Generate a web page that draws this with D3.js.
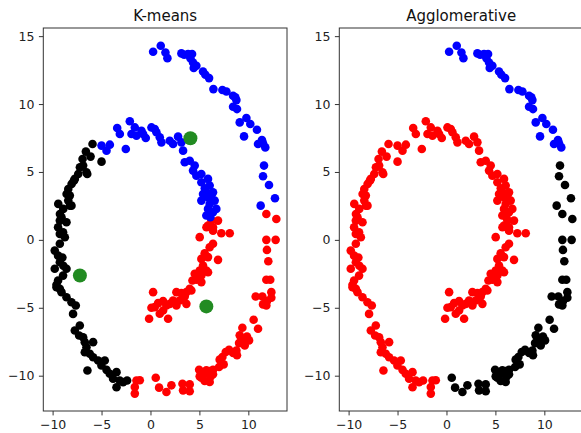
<!DOCTYPE html>
<html>
<head>
<meta charset="utf-8">
<script src="https://cdn.jsdelivr.net/npm/d3@7"></script>
<style>
  body { margin: 0; background: #fff; }
  svg { display: block; font-family: "DejaVu Sans", sans-serif; }
</style>
</head>
<body>
<svg id="chart"></svg>
<script>
// Spiral points, split into pieces by how each method labels them
const innerRed = [
  [6.90, 1.42], [5.88, 1.05], [6.39, 0.93], [5.03, 0.20], [7.24, 0.49], [8.10, 0.49],
  [6.39, -0.29], [6.05, -0.54], [5.54, -0.98], [5.88, -1.27], [5.20, -1.40], [6.90, -1.47],
  [5.37, -1.89], [5.71, -2.25], [5.88, -2.38], [5.03, -2.25], [4.52, -2.50], [5.20, -2.62],
  [4.69, -2.94], [5.20, -3.11], [4.29, -2.99], [4.01, -3.60], [3.67, -3.85], [4.18, -3.73],
  [3.50, -4.17], [3.16, -3.92], [2.65, -3.85], [2.99, -4.46], [2.31, -4.46], [1.97, -4.71],
  [1.29, -4.51], [1.63, -4.83], [0.78, -4.66], [0.44, -4.95], [0.27, -3.85], [0.10, -5.00],
  [1.29, -5.20], [1.80, -5.81], [-0.14, -5.81], [0.95, -5.44], [2.65, -4.83], [3.67, -4.71],
  [6.23, 1.42], [6.39, 0.68], [5.72, 0.93]
];
const innerBlue = [
  [-5.00, 6.94], [-4.49, 6.57], [-4.15, 7.01], [-3.40, 8.24], [-3.13, 7.79], [-2.52, 6.69],
  [-2.11, 8.73], [-1.94, 7.79], [-1.60, 8.28], [-1.43, 7.67], [-0.92, 8.04], [-0.75, 7.79],
  [-0.48, 7.50], [0.10, 8.28], [0.44, 8.16], [0.61, 7.92], [1.12, 7.18], [0.95, 7.55],
  [1.97, 7.30], [2.31, 7.06], [2.82, 7.60], [3.16, 7.18], [3.33, 6.57], [3.50, 5.71],
  [4.01, 5.83], [4.52, 5.47], [4.35, 5.10], [4.69, 4.73], [5.20, 4.85], [5.20, 4.24],
  [5.88, 4.49], [6.05, 4.00], [5.71, 3.50], [5.37, 3.38], [6.39, 3.50], [5.88, 3.14],
  [5.20, 2.89], [6.05, 2.65], [6.56, 2.89], [6.39, 2.03], [5.88, 2.28], [6.73, 2.28],
  [6.12, 1.67], [5.71, 1.79], [5.55, 3.80], [6.20, 3.20]
];
const leftArc = [
  [-5.92, 7.06], [-6.60, 6.50], [-6.12, 6.13], [-5.00, 5.76], [-6.94, 5.96], [-6.46, 4.85],
  [-7.21, 5.34], [-7.38, 4.85], [-7.82, 4.36], [-8.06, 4.12], [-8.40, 3.75], [-8.57, 3.38],
  [-8.40, 2.89], [-9.42, 2.65], [-8.91, 2.28], [-9.25, 1.91], [-8.23, 2.52], [-6.88, 5.47],
  [-6.54, 4.97], [-7.73, 4.49], [-8.24, 3.26], [-8.07, 2.52],
  [-9.09, 1.66], [-9.26, 1.42], [-8.58, 1.30], [-9.44, 0.93], [-8.93, 0.56], [-9.26, 0.44],
  [-8.75, 0.19], [-9.26, -0.29], [-9.78, -0.79], [-9.44, -1.16], [-9.26, -1.65], [-9.78, -2.13],
  [-8.58, -2.13], [-8.93, -2.63], [-9.44, -2.99], [-9.00, -1.30], [-8.90, -1.90], [-9.60, -3.30],
  [-9.60, -3.49], [-9.26, -3.61], [-9.09, -3.85], [-8.58, -4.22], [-8.07, -4.59], [-7.63, -4.83],
  [-7.91, -5.45], [-7.22, -6.31], [-7.73, -6.67], [-7.29, -7.04], [-6.88, -7.17], [-6.71, -7.53],
  [-5.86, -7.53], [-6.54, -7.90], [-6.71, -8.27], [-6.20, -8.39], [-5.86, -8.64], [-5.35, -8.88],
  [-4.67, -8.88], [-5.01, -9.25], [-4.49, -9.57], [-4.16, -9.86], [-3.47, -9.74], [-3.82, -10.23],
  [-3.14, -10.35], [-2.39, -10.35], [-3.47, -10.85], [-6.44, -9.62], [-2.80, -10.48]
];
const bottomRed = [
  [-1.43, -10.35], [-1.09, -10.34], [-1.60, -10.83], [-1.60, -11.32]
];
const outerRight = [
  [0.54, -10.15], [0.88, -10.88], [1.63, -11.20], [2.14, -10.71], [3.27, -10.59], [3.33, -11.08],
  [4.01, -11.15], [4.01, -10.64], [4.97, -9.56], [5.03, -10.05], [5.20, -10.15], [5.44, -9.90],
  [5.54, -10.39], [5.71, -9.61], [6.05, -9.66], [6.05, -10.47], [6.12, -10.10], [6.39, -9.56],
  [6.39, -9.90], [7.01, -9.36], [7.48, -9.17], [7.07, -8.82], [7.35, -8.63], [7.69, -8.26],
  [8.03, -8.09], [8.44, -8.33], [8.84, -8.50], [8.78, -8.14], [9.05, -7.60], [9.63, -7.77],
  [9.12, -7.03], [9.46, -7.28], [9.86, -7.11], [10.07, -7.40], [9.39, -6.47], [10.99, -6.54],
  [10.54, -5.88], [11.50, -4.75], [11.84, -4.83], [11.90, -4.51], [12.35, -4.26], [11.43, -4.17],
  [10.75, -4.17], [12.35, -3.85], [11.84, -2.94], [12.24, -2.94], [12.04, -1.57], [11.90, -0.74],
  [11.84, 0.00], [12.79, 0.00], [11.84, 1.91], [12.86, 1.54]
];
const outerBlueLow = [
  [11.60, 5.47], [11.50, 4.68], [12.11, 4.04], [12.72, 3.06], [11.26, 2.52]
];
const outerBlueTop = [
  [0.27, 13.85], [1.05, 14.29], [1.53, 13.80], [1.73, 13.38], [3.16, 13.73], [3.44, 13.63],
  [3.84, 13.68], [4.25, 13.68], [4.08, 13.38], [4.35, 13.06], [4.69, 12.82], [4.42, 12.65],
  [5.37, 12.40], [5.61, 12.16], [5.99, 11.91], [6.43, 11.10], [7.35, 11.03], [7.76, 10.93],
  [8.44, 10.61], [8.67, 10.49], [8.78, 10.29], [8.44, 9.80], [8.84, 9.63], [9.12, 8.65],
  [9.80, 8.97], [10.20, 8.53], [10.88, 8.11], [9.56, 7.62], [11.39, 7.35], [11.50, 7.11],
  [11.73, 6.81], [10.99, 7.06]
];
// K-means centres
const centroids = [[4.08, 7.48], [-7.21, -2.62], [5.71, -4.90]];

// [points, k-means label, agglomerative label]
const segments = [
  [leftArc, 'black', 'red'],
  [bottomRed, 'red', 'red'],
  [innerRed, 'red', 'red'],
  [innerBlue, 'blue', 'red'],
  [outerRight, 'red', 'black'],
  [outerBlueLow, 'blue', 'black'],
  [outerBlueTop, 'blue', 'blue']
];

const xTicks = [-10, -5, 0, 5, 10];
const yTicks = [-10, -5, 0, 5, 10, 15];
const colors = { blue: '#0000ff', red: '#ff0000', black: '#000000' };

const width = 581, height = 433;
const svg = d3.select('#chart').attr('width', width).attr('height', height);

const plotTop = 28, plotBottom = 411, panelW = 243.7;
const plotH = plotBottom - plotTop;

function drawPanel(left, title, labelIdx, showCentroids) {
  const x = d3.scaleLinear().domain([-10.95, 13.95]).range([0, panelW]);
  const y = d3.scaleLinear().domain([-12.6, 15.6]).range([plotH, 0]);
  const g = svg.append('g').attr('transform', `translate(${left},${plotTop})`);

  // points
  segments.forEach(seg => {
    g.selectAll(null)
      .data(seg[0])
      .enter().append('circle')
      .attr('cx', d => x(d[0]))
      .attr('cy', d => y(d[1]))
      .attr('r', 4.3)
      .attr('fill', colors[seg[labelIdx]]);
  });

  if (showCentroids) {
    g.selectAll(null)
      .data(centroids)
      .enter().append('circle')
      .attr('cx', d => x(d[0]))
      .attr('cy', d => y(d[1]))
      .attr('r', 7)
      .attr('fill', '#228b22');
  }

  // axes
  const xAxis = g.append('g')
    .attr('transform', `translate(0,${plotH})`)
    .call(d3.axisBottom(x).tickValues(xTicks).tickSize(4.4).tickPadding(4.4));
  const yAxis = g.append('g')
    .call(d3.axisLeft(y).tickValues(yTicks).tickSize(4.4).tickPadding(4.4));
  [xAxis, yAxis].forEach(a => {
    a.select('.domain').remove();
    a.selectAll('line').attr('stroke', '#333');
    a.selectAll('text')
      .attr('font-family', '"DejaVu Sans", sans-serif')
      .attr('font-size', 12.5)
      .attr('fill', '#222');
  });

  // frame
  g.append('rect')
    .attr('x', 0).attr('y', 0)
    .attr('width', panelW).attr('height', plotH)
    .attr('fill', 'none')
    .attr('stroke', '#333')
    .attr('stroke-width', 1);

  // title
  g.append('text')
    .attr('x', panelW / 2)
    .attr('y', -7.5)
    .attr('text-anchor', 'middle')
    .attr('font-size', 15)
    .attr('fill', '#111')
    .text(title);
}

drawPanel(43.3, 'K-means', 1, true);
drawPanel(339.3, 'Agglomerative', 2, false);
</script>
</body>
</html>
